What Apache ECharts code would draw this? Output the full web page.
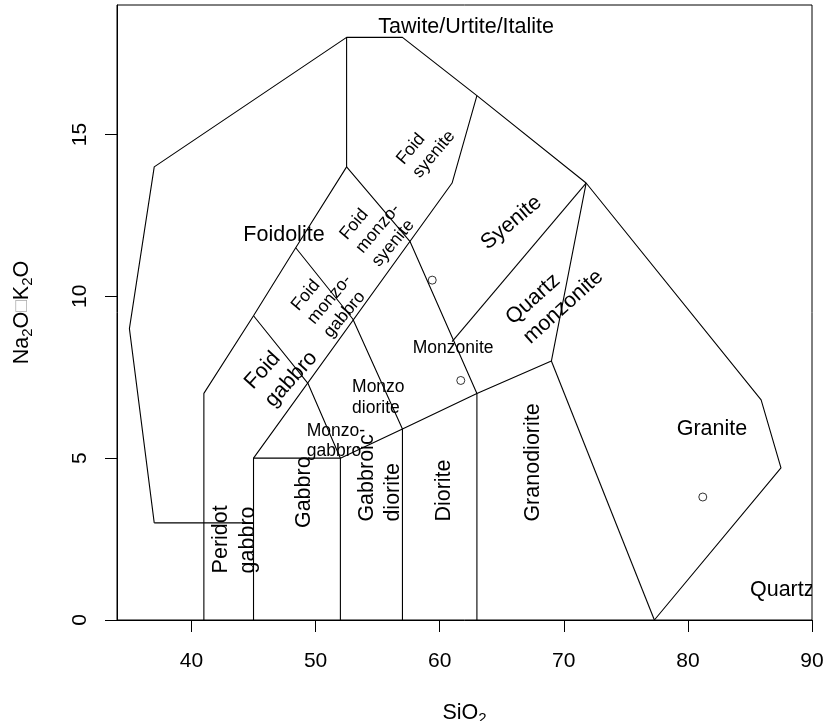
<!DOCTYPE html>
<html>
<head>
<meta charset="utf-8">
<title>TAS plutonic classification</title>
<script src="https://cdn.jsdelivr.net/npm/echarts@6/dist/echarts.min.js"></script>
<style>
  html, body { margin: 0; padding: 0; background: #fff; overflow: hidden; }
  #chart { width: 835px; height: 721px; }
</style>
</head>
<body>
<div id="chart"></div>
<script>
// Tick positions
const xTicks = [40, 50, 60, 70, 80, 90];
const yTicks = [0, 5, 10, 15];

// Field boundaries of the plutonic TAS diagram (SiO2, Na2O+K2O)
const outerBoundary = [[37, 3], [35, 9], [37, 14], [52.5, 18], [57, 18], [63, 16.2], [71.8, 13.5], [85.9, 6.8], [87.5, 4.7], [77.3, 0]];
const peridotGabbroTop = [[37, 3], [45, 3]];
const foidoliteBase = [[41, 0], [41, 7], [45, 9.4], [48.4, 11.5], [52.5, 14], [52.5, 18]];
const gabbroBox = [[45, 0], [45, 5], [52, 5], [52, 0]];
const foidGabbroEdge = [[45, 9.4], [49.4, 7.3], [52, 5]];
const monzogabbroEdge = [[48.4, 11.5], [53, 9.3], [57, 5.9], [57, 0]];
const subalkalineTop = [[52, 5], [57, 5.9], [63, 7], [69, 8], [71.8, 13.5]];
const dioriteEdge = [[63, 0], [63, 7]];
const graniteEdge = [[69, 8], [77.3, 0]];
const foidLimit = [[45, 5], [61, 13.5], [63, 16.2]];
const monzoniteEdge = [[52.5, 14], [57.6, 11.7], [63, 7]];
const quartzMonzoniteEdge = [[61, 8.6], [71.8, 13.5]];

const boundaries = [outerBoundary, peridotGabbroTop, foidoliteBase, gabbroBox, foidGabbroEdge,
  monzogabbroEdge, subalkalineTop, dioriteEdge, graniteEdge, foidLimit, monzoniteEdge, quartzMonzoniteEdge];

// Samples
const sampleSiO2 = [59.4, 61.7, 81.2];
const sampleAlkali = [10.5, 7.4, 3.8];

// Field names, anchored at the start of each text block
const BIG = 21.5, SMALL = 17.5;
const fieldLabels = [
  { text: 'Tawite/Urtite/Italite', x: 55.06, y: 18.38, rotate: 0, size: BIG },
  { text: 'Foidolite', x: 44.18, y: 11.94, rotate: 0, size: BIG },
  { text: 'Foid\nsyenite', x: 57.33, y: 13.98, rotate: 50, size: SMALL, lh: 21 },
  { text: 'Foid\nmonzo-\nsyenite', x: 53.4, y: 11.44, rotate: 50, size: SMALL, lh: 21 },
  { text: 'Foid\nmonzo-\ngabbro', x: 49.5, y: 9.25, rotate: 50, size: SMALL, lh: 21 },
  { text: 'Foid\ngabbro', x: 45.3, y: 6.99, rotate: 48, size: BIG, lh: 27 },
  { text: 'Syenite', x: 65.67, y: 12.32, rotate: 40, size: BIG, align: 'center' },
  { text: 'Quartz\nmonzonite', x: 66.18, y: 8.99, rotate: 42, size: BIG, lh: 26 },
  { text: 'Monzonite', x: 57.83, y: 8.45, rotate: 0, size: SMALL },
  { text: 'Monzo\ndiorite', x: 52.94, y: 6.92, rotate: 0, size: SMALL, lh: 21 },
  { text: 'Monzo-\ngabbro', x: 49.29, y: 5.6, rotate: 0, size: SMALL, lh: 20 },
  { text: 'Peridot\ngabbro', x: 43.28, y: 1.44, rotate: 90, size: BIG, lh: 27 },
  { text: 'Gabbro', x: 48.93, y: 2.84, rotate: 90, size: BIG },
  { text: 'Gabbroic\ndiorite', x: 55.04, y: 3.04, rotate: 90, size: BIG, lh: 26 },
  { text: 'Diorite', x: 60.21, y: 3.04, rotate: 90, size: BIG },
  { text: 'Granodiorite', x: 67.33, y: 3.04, rotate: 90, size: BIG },
  { text: 'Granite', x: 79.1, y: 5.95, rotate: 0, size: BIG },
  { text: 'Quartzolite', x: 85.0, y: 0.99, rotate: 0, size: BIG }
];

const FONT = '"Liberation Sans", Arial, Helvetica, sans-serif';

const nameRich = {
  n: { fontSize: 21.5, fontFamily: FONT, color: '#000', lineHeight: 26, verticalAlign: 'middle' },
  s: { fontSize: 15, fontFamily: FONT, color: '#000', lineHeight: 15, verticalAlign: 'bottom' },
  b: { fontSize: 19, fontFamily: FONT, color: '#aaa', lineHeight: 26, verticalAlign: 'middle' }
};

const series = boundaries.map(function (pts) {
  return {
    type: 'line',
    data: pts,
    symbol: 'none',
    silent: true,
    z: 2,
    lineStyle: { color: '#000', width: 1.1 }
  };
});

series.push({
  type: 'custom',
  clip: true,
  z: 3,
  silent: true,
  data: fieldLabels.map(function (l) { return [l.x, l.y]; }),
  renderItem: function (params, api) {
    const lab = fieldLabels[params.dataIndex];
    const p = api.coord([api.value(0), api.value(1)]);
    return {
      type: 'text',
      x: p[0],
      y: p[1],
      rotation: lab.rotate * Math.PI / 180,
      style: {
        text: lab.text,
        x: 0,
        y: 2,
        fontSize: lab.size,
        fontFamily: FONT,
        lineHeight: lab.lh || Math.round(lab.size * 1.2),
        align: lab.align || 'left',
        verticalAlign: 'middle',
        fill: '#000'
      }
    };
  }
});

series.push({
  type: 'scatter',
  z: 4,
  data: sampleSiO2.map(function (x, i) { return [x, sampleAlkali[i]]; }),
  symbol: 'circle',
  symbolSize: 8,
  itemStyle: { color: 'rgba(0,0,0,0)', borderColor: '#000', borderWidth: 1 }
});

const chart = echarts.init(document.getElementById('chart'), null, { renderer: 'canvas' });
chart.setOption({
  animation: false,
  backgroundColor: '#fff',
  grid: {
    left: 117, right: 23, top: 5, bottom: 101,
    outerBoundsMode: 'none', containLabel: false,
    show: true, borderColor: '#000', borderWidth: 1
  },
  xAxis: {
    type: 'value', min: 34, max: 90,
    name: '{n|SiO}{s|2}', nameLocation: 'middle', nameGap: 80,
    nameTextStyle: { rich: nameRich },
    axisLine: { show: true, onZero: false, lineStyle: { color: '#000', width: 1 } },
    axisTick: { show: true, length: 12, customValues: xTicks, lineStyle: { color: '#000' } },
    axisLabel: { customValues: xTicks, margin: 31, fontSize: 21, fontFamily: FONT, color: '#000' },
    splitLine: { show: false }
  },
  yAxis: {
    type: 'value', min: 0, max: 19,
    name: '{n|Na}{s|2}{n|O}{b|\u25A1}{n|K}{s|2}{n|O}', nameLocation: 'middle', nameGap: 82, nameRotate: 90,
    nameTextStyle: { rich: nameRich },
    axisLine: { show: true, onZero: false, lineStyle: { color: '#000', width: 1 } },
    axisTick: { show: true, length: 12, customValues: yTicks, lineStyle: { color: '#000' } },
    axisLabel: { customValues: yTicks, rotate: 90, margin: 26, fontSize: 21, fontFamily: FONT, color: '#000' },
    splitLine: { show: false }
  },
  series: series
});
</script>
</body>
</html>
